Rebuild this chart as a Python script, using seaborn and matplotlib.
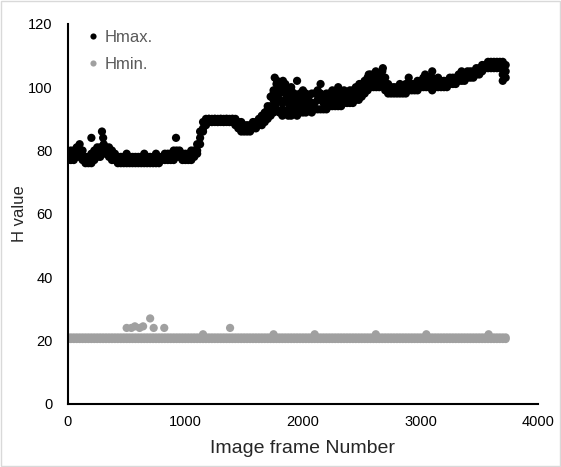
import matplotlib
matplotlib.use("Agg")

import matplotlib.pyplot as plt
import numpy as np
import pandas as pd
import seaborn as sns
from matplotlib.patches import Rectangle

# readings taken every FRAME_STEP frames: lower edge, middle and upper edge of each band
FRAME_STEP = 25

hmax_lower = [
    77, 77, 77, 78, 78, 77, 76, 76, 76, 77, 78, 78, 79, 79, 78, 77,
    77, 76, 76, 76, 76, 76, 76, 76, 76, 76, 76, 76, 76, 76, 76, 76,
    77, 77, 77, 77, 77, 78, 78, 77, 77, 77, 77, 78, 79, 82, 86, 88,
    89, 89, 89, 89, 89, 89, 89, 89, 89, 88, 87, 86, 86, 86, 86, 87,
    87, 88, 88, 89, 90, 91, 92, 93, 92, 91, 92, 91, 91, 92, 91, 92,
    92, 92, 93, 92, 93, 93, 93, 93, 93, 94, 94, 94, 94, 94, 95, 95,
    95, 95, 96, 96, 97, 98, 99, 100, 100, 100, 100, 101, 99, 98, 98, 98,
    98, 98, 98, 98, 99, 99, 99, 99, 100, 100, 100, 100, 99, 100, 100, 100,
    100, 100, 101, 101, 101, 102, 102, 102, 103, 103, 103, 104, 104, 105, 106, 106,
    106, 106, 106, 106, 104, 103,
]
hmax_middle = [
    78, 78, 79, 80, 80, 78, 77, 77, 77, 78, 80, 79, 80, 80, 79, 78,
    78, 77, 77, 77, 77, 77, 77, 77, 77, 77, 77, 77, 77, 77, 77, 77,
    78, 78, 78, 78, 78, 79, 79, 78, 78, 78, 78, 79, 80, 84, 87, 89,
    90, 89, 90, 89, 90, 89, 90, 89, 90, 89, 88, 87, 87, 87, 87, 88,
    88, 89, 90, 90, 92, 94, 96, 97, 96, 95, 96, 95, 95, 95, 94, 95,
    94, 95, 95, 95, 95, 96, 96, 95, 95, 96, 96, 96, 96, 96, 97, 97,
    97, 97, 98, 98, 99, 100, 101, 102, 102, 101, 102, 103, 101, 100, 99, 99,
    99, 100, 99, 100, 100, 100, 100, 101, 101, 101, 101, 102, 101, 101, 101, 101,
    101, 101, 102, 102, 102, 103, 103, 103, 104, 104, 104, 105, 105, 106, 106, 107,
    107, 107, 107, 107, 106, 105,
]
hmax_upper = [
    79, 80, 80, 81, 82, 80, 78, 78, 79, 80, 81, 81, 81, 81, 81, 80,
    79, 78, 78, 78, 79, 78, 78, 78, 78, 78, 79, 78, 78, 78, 79, 78,
    78, 79, 79, 79, 80, 80, 80, 79, 79, 79, 80, 80, 82, 86, 89, 90,
    90, 90, 90, 90, 90, 90, 90, 90, 90, 90, 89, 89, 88, 88, 88, 89,
    89, 90, 91, 92, 94, 97, 99, 101, 100, 99, 100, 98, 99, 98, 97, 98,
    97, 98, 97, 98, 98, 99, 98, 97, 98, 98, 99, 98, 98, 98, 99, 98,
    99, 99, 100, 100, 101, 102, 103, 104, 104, 103, 104, 105, 103, 101, 100, 100,
    100, 101, 100, 101, 101, 101, 101, 102, 102, 103, 103, 103, 103, 102, 103, 102,
    102, 102, 103, 103, 103, 104, 104, 104, 105, 105, 105, 106, 106, 107, 107, 108,
    108, 108, 108, 108, 108, 107,
]
# extra readings for the thick stretch of the band, frames 1700-2000
hmax_fill_start = 1700
hmax_fill = [93, 92.5, 98, 95, 98, 93, 98, 93, 97, 93.5, 96, 93.5, 96]

hmax_extra_frames = [200, 290, 300, 305, 920, 1760, 1780, 1800, 1830, 1850, 1900, 1950,
                     2000, 2150, 2300, 2480, 2560, 2620, 2680, 2900, 3040, 3100, 3350, 3700]
hmax_extra_values = [84, 86, 84, 82, 84, 103, 102, 100, 102, 101, 100, 102,
                     99, 101, 100, 101, 104, 105, 106, 103, 104, 105, 105, 102]

hmin_lower = [20.5] * 150
hmin_upper = [21] * 150
hmin_extra_frames = [500, 540, 570, 610, 640, 700, 730, 820, 1150, 1380, 1750, 2100, 2620, 3050, 3580]
hmin_extra_values = [24, 24, 24.5, 24, 24.5, 27, 24, 24, 22, 24, 22, 22, 22, 22, 22]

x_ticks = [0, 1000, 2000, 3000, 4000]
y_ticks = [0, 20, 40, 60, 80, 100, 120]


def build_frame() -> pd.DataFrame:
    fill_frames = list(hmax_fill_start + np.arange(len(hmax_fill)) * FRAME_STEP)
    rows = []
    for name, bands, ex_f, ex_v in (
        ("Hmax.", (hmax_lower, hmax_middle, hmax_upper),
         fill_frames + hmax_extra_frames, hmax_fill + hmax_extra_values),
        ("Hmin.", (hmin_lower, hmin_upper), hmin_extra_frames, hmin_extra_values),
    ):
        frames = list(np.arange(len(bands[0])) * FRAME_STEP)
        all_frames = frames * len(bands) + list(ex_f)
        all_vals = [v for band in bands for v in band] + list(ex_v)
        rows.append(pd.DataFrame({"frame": all_frames, "H": all_vals, "series": name}))
    return pd.concat(rows, ignore_index=True)


def main() -> None:
    data = build_frame()
    sns.set_style("white")
    plt.rcParams["font.family"] = ["Liberation Sans", "DejaVu Sans"]

    fig = plt.figure(figsize=(5.61, 4.67), dpi=100)
    ax = fig.add_axes([0.121, 0.135, 0.838, 0.814])
    sns.scatterplot(
        data=data, x="frame", y="H", hue="series",
        palette={"Hmax.": "#000000", "Hmin.": "#a0a0a0"},
        s=35, linewidth=0, ax=ax,
    )

    ax.set_xlim(0, 4000)
    ax.set_ylim(0, 120)
    ax.set_xticks(x_ticks)
    ax.set_yticks(y_ticks)
    ax.tick_params(axis="both", length=0, labelsize=10.5, colors="#000000")
    ax.tick_params(axis="y", pad=11)
    ax.tick_params(axis="x", pad=8)
    ax.set_xlabel("Image frame Number", fontsize=14, labelpad=8)
    ax.set_ylabel("H value", fontsize=12, labelpad=1)
    for side in ("top", "right"):
        ax.spines[side].set_visible(False)
    for side in ("left", "bottom"):
        ax.spines[side].set_color("#000000")
        ax.spines[side].set_linewidth(1.5)

    leg = ax.legend(
        loc="upper left", bbox_to_anchor=(0.04, 0.985), frameon=False,
        fontsize=12, handlelength=0.8, handletextpad=0.3, labelspacing=0.75,
        borderpad=0, borderaxespad=0, markerscale=0.75,
    )
    for text in leg.get_texts():
        text.set_color("#595959")

    fig.patches.append(Rectangle((0.002, 0.002), 0.996, 0.996, transform=fig.transFigure,
                                 fill=False, edgecolor="#d9d9d9", linewidth=1))
    fig.savefig("out.png", dpi=100)
    plt.close(fig)


if __name__ == "__main__":
    main()
